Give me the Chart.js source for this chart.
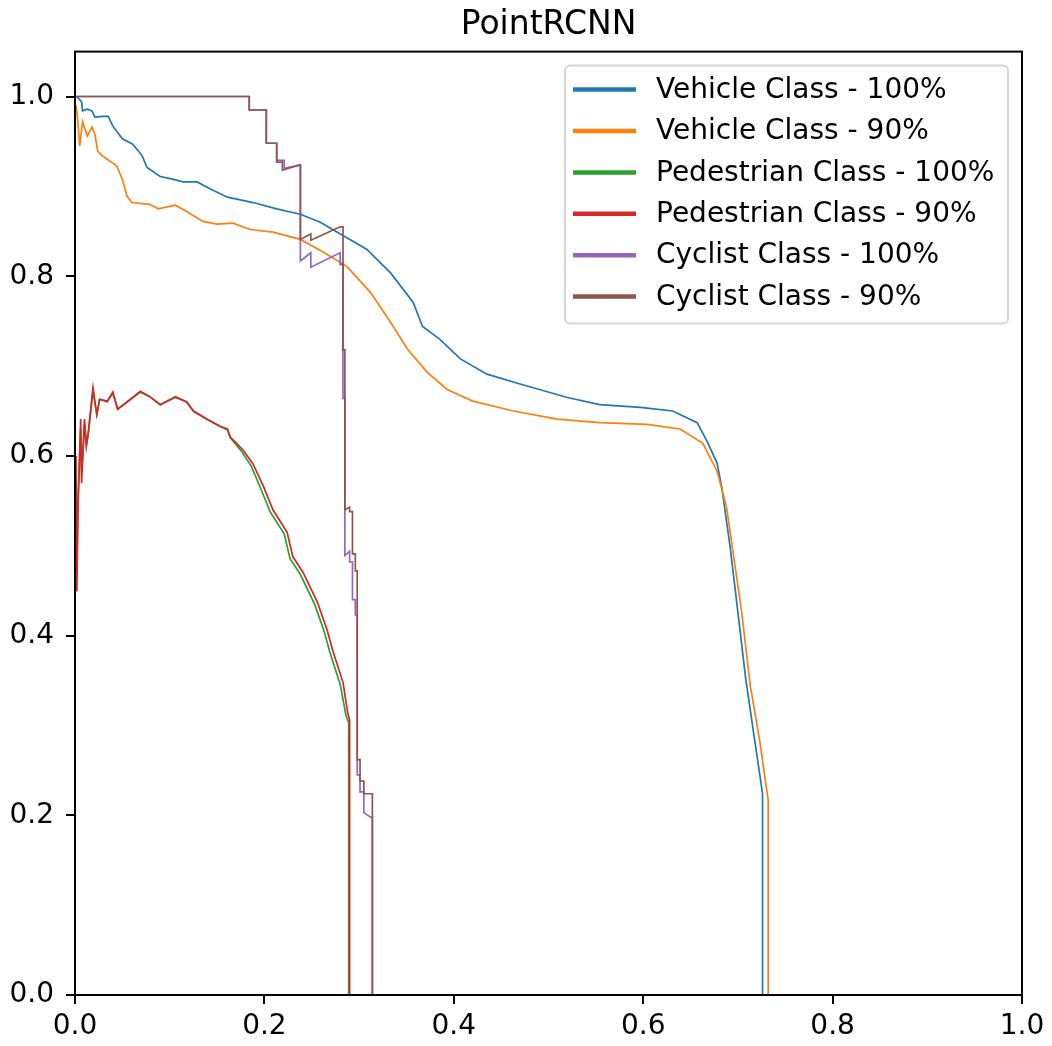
<!DOCTYPE html>
<html>
<head>
<meta charset="utf-8">
<title>PointRCNN</title>
<script src="https://cdn.jsdelivr.net/npm/chart.js@4.4.1/dist/chart.umd.min.js"></script>
<style>
  html, body { margin: 0; padding: 0; background: #fff; }
  #wrap { width: 1052px; height: 1046px; }
</style>
</head>
<body>
<div id="wrap"><canvas id="prCurve" width="1052" height="1046"></canvas></div>
<script>
// recall (x) / precision (y)
const vehicle100X = [0.002,0.007,0.008,0.013,0.018,0.021,0.029,0.035,0.040,0.050,0.061,0.071,0.076,0.090,0.103,0.114,0.129,0.143,0.161,0.188,0.213,0.238,0.259,0.277,0.308,0.333,0.357,0.367,0.385,0.407,0.435,0.470,0.520,0.554,0.597,0.631,0.657,0.668,0.678,0.683,0.692,0.702,0.708,0.716,0.723,0.726,0.726];
const vehicle100Y = [1.0,0.994,0.984,0.986,0.984,0.977,0.978,0.978,0.967,0.953,0.947,0.934,0.921,0.911,0.908,0.905,0.905,0.897,0.888,0.882,0.875,0.869,0.860,0.849,0.830,0.804,0.771,0.744,0.730,0.708,0.691,0.680,0.665,0.657,0.654,0.650,0.637,0.615,0.592,0.565,0.497,0.408,0.354,0.296,0.246,0.224,0];

const vehicle90X = [0.001,0.002,0.005,0.008,0.013,0.018,0.021,0.024,0.029,0.037,0.044,0.050,0.055,0.060,0.079,0.088,0.106,0.118,0.135,0.150,0.167,0.185,0.209,0.238,0.262,0.287,0.312,0.333,0.351,0.372,0.393,0.420,0.463,0.509,0.554,0.604,0.639,0.663,0.678,0.688,0.695,0.704,0.713,0.723,0.732,0.732];
const vehicle90Y = [0.99,0.984,0.945,0.972,0.956,0.966,0.958,0.939,0.934,0.928,0.923,0.908,0.889,0.882,0.880,0.875,0.879,0.872,0.861,0.858,0.859,0.852,0.849,0.841,0.827,0.811,0.782,0.749,0.719,0.693,0.674,0.661,0.650,0.641,0.637,0.635,0.630,0.614,0.583,0.543,0.492,0.426,0.345,0.283,0.217,0];

const pedestrian100X = [0.001,0.002,0.003,0.006,0.007,0.010,0.012,0.014,0.019,0.023,0.026,0.034,0.040,0.045,0.055,0.069,0.079,0.090,0.106,0.118,0.125,0.139,0.153,0.161,0.164,0.176,0.186,0.196,0.206,0.221,0.227,0.238,0.253,0.263,0.269,0.280,0.286,0.289,0.289];
const pedestrian100Y = [0.52,0.47,0.55,0.63,0.58,0.635,0.612,0.624,0.672,0.646,0.663,0.660,0.670,0.652,0.660,0.671,0.666,0.657,0.665,0.660,0.650,0.641,0.633,0.629,0.620,0.605,0.589,0.564,0.538,0.513,0.486,0.468,0.435,0.405,0.382,0.346,0.312,0.303,0];

const pedestrian90X = [0.001,0.002,0.003,0.006,0.007,0.010,0.012,0.014,0.019,0.023,0.026,0.034,0.040,0.045,0.055,0.069,0.079,0.090,0.106,0.118,0.125,0.139,0.153,0.161,0.164,0.177,0.188,0.199,0.209,0.224,0.230,0.241,0.256,0.266,0.272,0.283,0.288,0.290,0.290];
const pedestrian90Y = [0.60,0.449,0.533,0.641,0.570,0.641,0.611,0.626,0.676,0.646,0.663,0.661,0.671,0.652,0.660,0.672,0.666,0.657,0.666,0.660,0.650,0.641,0.633,0.630,0.621,0.607,0.591,0.566,0.540,0.515,0.488,0.470,0.437,0.407,0.384,0.348,0.314,0.306,0];

const cyclist100X = [0,0.184,0.184,0.202,0.202,0.213,0.213,0.221,0.221,0.238,0.238,0.249,0.249,0.280,0.280,0.283,0.283,0.285,0.285,0.290,0.290,0.293,0.293,0.296,0.296,0.298,0.298,0.301,0.301,0.305,0.305,0.312,0.314,0.314];
const cyclist100Y = [1.0,1.0,0.985,0.985,0.948,0.948,0.929,0.929,0.920,0.924,0.817,0.826,0.810,0.826,0.813,0.813,0.664,0.664,0.489,0.494,0.482,0.482,0.440,0.440,0.423,0.423,0.245,0.245,0.226,0.226,0.203,0.198,0.198,0];

const cyclist90X = [0,0.184,0.184,0.202,0.202,0.213,0.213,0.219,0.219,0.238,0.238,0.249,0.249,0.280,0.283,0.283,0.285,0.285,0.290,0.290,0.293,0.293,0.296,0.296,0.298,0.298,0.301,0.301,0.305,0.305,0.314,0.314];
const cyclist90Y = [1.0,1.0,0.985,0.985,0.948,0.948,0.927,0.927,0.918,0.924,0.841,0.847,0.840,0.855,0.855,0.718,0.718,0.540,0.543,0.538,0.538,0.491,0.491,0.472,0.472,0.262,0.262,0.238,0.238,0.224,0.224,0];

const seriesLabels = ["Vehicle Class - 100%", "Vehicle Class - 90%", "Pedestrian Class - 100%", "Pedestrian Class - 90%", "Cyclist Class - 100%", "Cyclist Class - 90%"];
const seriesColors = ["#1f77b4", "#ff7f0e", "#2ca02c", "#d62728", "#9467bd", "#8c564b"];
const xTicks = [0, 0.2, 0.4, 0.6, 0.8, 1.0];
const yTicks = [0, 0.2, 0.4, 0.6, 0.8, 1.0];

const FONT = '"DejaVu Sans", "Liberation Sans", sans-serif';

function zip(xs, ys) {
  return xs.map((x, i) => ({ x: x, y: ys[i] }));
}

const seriesData = [
  zip(vehicle100X, vehicle100Y),
  zip(vehicle90X, vehicle90Y),
  zip(pedestrian100X, pedestrian100Y),
  zip(pedestrian90X, pedestrian90Y),
  zip(cyclist100X, cyclist100Y),
  zip(cyclist90X, cyclist90Y),
];

const datasets = seriesData.map((pts, i) => ({
  label: seriesLabels[i],
  data: pts,
  borderColor: seriesColors[i],
  backgroundColor: seriesColors[i],
  borderWidth: 1.7,
  pointRadius: 0,
  showLine: true,
  tension: 0,
  order: seriesData.length - 1 - i, // later series on top, like matplotlib
}));

// spines + legend box in the upper right of the axes
const frameAndLegend = {
  id: "frameAndLegend",
  afterDatasetsDraw(chart) {
    const ctx = chart.ctx;
    const a = chart.chartArea;
    ctx.save();
    ctx.strokeStyle = "#000";
    ctx.lineWidth = 2;
    ctx.strokeRect(a.left, a.top, a.right - a.left, a.bottom - a.top);

    const bx = a.right - 457, by = a.top + 14, bw = 443, bh = 258;
    ctx.beginPath();
    ctx.roundRect(bx, by, bw, bh, 5);
    ctx.fillStyle = "rgba(255,255,255,0.8)";
    ctx.fill();
    ctx.strokeStyle = "#d6d6d6";
    ctx.lineWidth = 2;
    ctx.stroke();

    ctx.font = "28px " + FONT;
    ctx.textBaseline = "middle";
    ctx.textAlign = "left";
    chart.data.datasets.forEach((ds, i) => {
      const rowY = by + 24 + i * 41.4;
      ctx.strokeStyle = ds.borderColor;
      ctx.lineWidth = 4.5;
      ctx.beginPath();
      ctx.moveTo(bx + 8, rowY);
      ctx.lineTo(bx + 71, rowY);
      ctx.stroke();
      ctx.fillStyle = "#000";
      ctx.fillText(ds.label, bx + 91, rowY + 1);
    });
    ctx.restore();
  },
};

new Chart(document.getElementById("prCurve"), {
  type: "scatter",
  data: { datasets: datasets },
  options: {
    responsive: false,
    animation: false,
    devicePixelRatio: 1,
    layout: { padding: { left: 0, right: 30, top: 0, bottom: 0 } },
    plugins: {
      legend: { display: false },
      tooltip: { enabled: false },
      title: {
        display: true,
        fullSize: false,
        text: "PointRCNN",
        color: "#000",
        font: { family: FONT, size: 33, weight: "normal" },
        padding: { top: 6, bottom: 6 },
      },
    },
    scales: {
      x: {
        type: "linear",
        min: 0,
        max: 1,
        afterBuildTicks: (s) => { s.ticks = xTicks.map((v) => ({ value: v })); },
        afterFit: (s) => { s.height = 51; },
        ticks: {
          color: "#000",
          font: { family: FONT, size: 28 },
          padding: 6,
          maxRotation: 0,
          callback: (v) => Number(v).toFixed(1),
        },
        grid: { drawOnChartArea: false, drawTicks: true, tickLength: 9, color: "#000", lineWidth: 2 },
        border: { display: false },
      },
      y: {
        type: "linear",
        min: 0,
        max: 1.05,
        afterBuildTicks: (s) => { s.ticks = yTicks.map((v) => ({ value: v })); },
        afterFit: (s) => { s.width = 75; },
        ticks: {
          color: "#000",
          font: { family: FONT, size: 28 },
          padding: 12,
          callback: (v) => Number(v).toFixed(1),
        },
        grid: { drawOnChartArea: false, drawTicks: true, tickLength: 9, color: "#000", lineWidth: 2 },
        border: { display: false },
      },
    },
  },
  plugins: [frameAndLegend],
});
</script>
</body>
</html>
